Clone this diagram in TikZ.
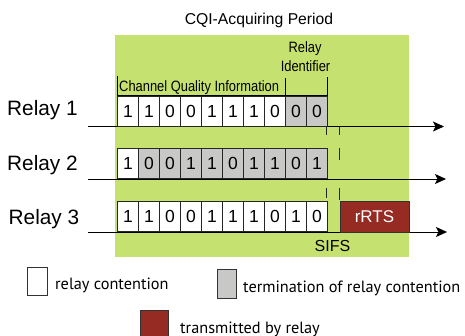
\documentclass[tikz,border=0pt]{standalone}
\usepackage{fontspec}
\setmainfont{Liberation Sans}
\newfontfamily\legendfont{PT Sans}
\usetikzlibrary{arrows.meta}
\definecolor{periodgreen}{RGB}{197,226,112}
\definecolor{termgray}{RGB}{200,201,199}
\definecolor{rtsred}{RGB}{149,43,34}
\tikzset{
  bit/.style={draw=black!85, line width=1.1pt, minimum width=21pt, minimum height=30pt,
    inner sep=0pt, font=\fontsize{17.5}{20}\selectfont, anchor=north west},
  wbit/.style={bit, fill=white},
  gbit/.style={bit, fill=termgray},
  timeline/.style={line width=0.9pt, -{Stealth[length=11pt,width=10pt,inset=2.5pt]}},
  relaylabel/.style={anchor=base west, inner sep=0pt, font=\fontsize{20.8}{24}\selectfont},
  smalltext/.style={anchor=base, inner sep=0pt, font=\fontsize{15}{18}\selectfont},
  legtext/.style={anchor=base west, inner sep=0pt, font=\legendfont\fontsize{16.3}{19}\selectfont},
  legbox/.style={draw=black!80, line width=1pt, anchor=north west, inner sep=0pt},
  sifsmark/.style={line width=1pt, black!85},
}
\begin{document}
\begin{tikzpicture}[x=1pt,y=-1pt]
\useasboundingbox (0,0) rectangle (465,336);
% period background
\node[fill=periodgreen, inner sep=0pt, minimum width=294pt, minimum height=222pt, anchor=north west] (period) at (115,35) {};
% titles
\node[smalltext, font=\fontsize{15.7}{18}\selectfont] (title) at (259,25) {CQI-Acquiring Period};
\node[smalltext] (relayid1) at (305,53) {\scalebox{0.86}[1]{Relay}};
\node[smalltext] (relayid2) at (305.5,72) {\scalebox{0.86}[1]{Identifier}};
\node[smalltext, anchor=base west] (cqi) at (119,92) {\scalebox{0.86}[1]{Channel Quality Information}};
% bracket
\draw[line width=0.9pt] (117,76) -- (117,95) -- (327,95) -- (327,77);
\draw[line width=0.9pt] (285,78) -- (285,95);
% SIFS marks
\foreach \a/\b in {126/135, 188/198}{\draw[sifsmark] (326.5,\a) -- (326.5,\b);}
\foreach \a/\b in {126/135, 148/160, 188/200}{\draw[sifsmark] (339.5,\a) -- (339.5,\b);}
% timelines
\coordinate (s1) at (88,126.5); \coordinate (e1) at (444,126.5);
\coordinate (s2) at (88,179);   \coordinate (e2) at (446,179);
\coordinate (s3) at (88,232);   \coordinate (e3) at (447,232);
\draw[timeline] (s1) -- (e1);
\draw[timeline] (s2) -- (e2);
\draw[timeline] (s3) -- (e3);
% relay labels
\node[relaylabel] (relay1) at (7,116) {Relay 1};
\node[relaylabel] (relay2) at (7,171) {Relay 2};
\node[relaylabel] (relay3) at (8.5,225) {Relay 3};
% bits
\foreach \v/\s [count=\i from 0] in {1/wbit,1/wbit,0/wbit,0/wbit,1/wbit,1/wbit,1/wbit,0/wbit,0/gbit,0/gbit}
  {\node[\s] (ra\i) at (117+21*\i,96) {\v};}
\foreach \v/\s [count=\i from 0] in {1/wbit,0/gbit,0/gbit,1/gbit,1/gbit,0/gbit,1/gbit,1/gbit,0/gbit,1/gbit}
  {\node[\s] (rb\i) at (117+21*\i,148) {\v};}
\foreach \v/\s [count=\i from 0] in {1/wbit,1/wbit,0/wbit,0/wbit,1/wbit,1/wbit,1/wbit,0/wbit,1/wbit,0/wbit}
  {\node[\s] (rc\i) at (117+21*\i,201) {\v};}
% rRTS
\node[draw=black!80, line width=1pt, fill=rtsred, text=white, anchor=north west, inner sep=0pt,
  minimum width=69pt, minimum height=31pt, font=\fontsize{17}{20}\selectfont] (rrts) at (339.5,201) {rRTS};
\node[smalltext, font=\fontsize{16}{19}\selectfont] (sifs) at (332.5,252) {SIFS};
% legend
\node[legbox, fill=white, minimum width=20pt, minimum height=28pt] (legw) at (27,267) {};
\node[legtext] (legwt) at (55,289) {relay contention};
\node[legbox, fill=termgray, minimum width=19pt, minimum height=29pt] (legg) at (217,269) {};
\node[legtext] (leggt) at (243,292) {termination of relay contention};
\node[legbox, fill=rtsred, minimum width=28pt, minimum height=32pt] (legr) at (140,310) {};
\node[legtext] (legrt) at (180,333) {transmitted by relay};
\end{tikzpicture}
\end{document}
